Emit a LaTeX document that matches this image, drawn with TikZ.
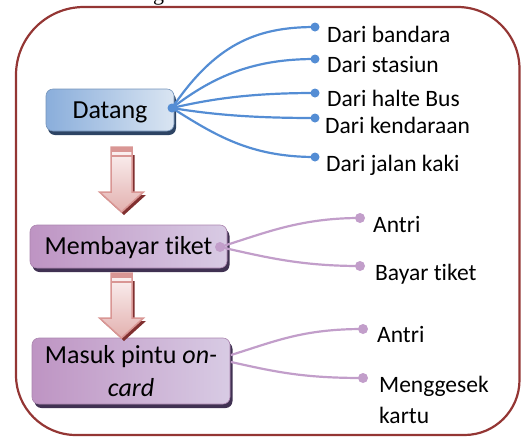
\documentclass[tikz,border=0pt]{standalone}
\usepackage{fontspec}
\setmainfont{Carlito}[RawFeature={-liga}]
\newfontfamily\capfont{Liberation Serif}
\usetikzlibrary{calc}
\definecolor{framecol}{RGB}{148,54,52}
\definecolor{bluel}{RGB}{84,141,212}
\definecolor{purl}{RGB}{194,158,202}
\definecolor{dblueA}{RGB}{138,174,219}
\definecolor{dblueB}{RGB}{218,229,242}
\definecolor{dblueS}{RGB}{45,68,100}
\definecolor{purA}{RGB}{190,148,195}
\definecolor{purB}{RGB}{216,203,228}
\definecolor{purS}{RGB}{64,49,82}
\definecolor{pinkE}{RGB}{217,150,148}
\definecolor{pinkL}{RGB}{252,244,244}
\definecolor{arrowsh}{RGB}{128,48,48}
\tikzset{
  leaf/.style={anchor=base west, inner sep=0pt, font=\fontsize{23.5}{31}\selectfont},
  bluedot/.style={circle, fill=bluel, inner sep=0pt, minimum size=9pt},
  purdot/.style={circle, fill=purl, inner sep=0pt, minimum size=10pt},
  bluecurve/.style={draw=bluel, line width=2.2pt},
  purcurve/.style={draw=purl, line width=2.2pt},
  boxbase/.style={rounded corners=7pt, inner sep=0pt, font=\fontsize{26}{33}\selectfont, line width=0.6pt},
  oneline/.style={text height=20pt, text depth=4pt},
  bluebox/.style={boxbase, left color=dblueA, right color=dblueB, draw=dblueA!85!black,
    preaction={fill=dblueS, transform canvas={shift={(2pt,-4pt)}}}},
  purbox/.style={boxbase, left color=purA, right color=purB, draw=purA!90!black,
    preaction={fill=purS, transform canvas={shift={(2.5pt,-4pt)}}}},
  downarrow/.pic={
    \fill[arrowsh] (-8,8) -- (13,8) -- (13,48) -- (24.5,48) -- (2.5,68) -- (-19.5,48) -- (-8,48) -- cycle;
    \path[draw=pinkE, line width=1.5pt, top color=pinkL, bottom color=pinkE!75!white]
      (-10.5,0) -- (10.5,0) -- (10.5,45) -- (22,45) -- (0,65) -- (-22,45) -- (-10.5,45) -- cycle;
    \fill[pinkE] (-10.5,0) rectangle (10.5,5);
    \fill[pinkE] (-10.5,7.5) rectangle (10.5,10);
  }
}
\begin{document}
\begin{tikzpicture}[x=1pt,y=-1pt]
\useasboundingbox (0,0) rectangle (523,437);
% cut-off caption fragment
\node[font=\capfont\fontsize{22}{26}\selectfont, anchor=base, inner sep=0pt] (cut) at (158.5,0) {g};
% frame
\draw[framecol, line width=2.2pt] (16,250) [rounded corners=68pt] |- (300,7)
  [rounded corners=62pt] -| (519.5,250)
  [rounded corners=55pt] |- (300,435)
  [rounded corners=60pt] -| (16,250) -- cycle;

% main boxes
\node[bluebox, oneline, minimum width=128pt, minimum height=42pt] (datang) at (110,110) {Datang};
\node[purbox, oneline, minimum width=197pt, minimum height=43pt] (bayar) at (128.5,246.5) {Membayar tiket};
\node[purbox, align=center, minimum width=198pt, minimum height=66pt] (masuk) at (131,371) {Masuk pintu \textit{on-}\\\textit{card}};

% arrows between steps
\pic (arrowA) at (121.5,147) {downarrow};
\pic (arrowB) at (121.5,273) {downarrow};

% anchor points
\coordinate (dsrc) at (172,108);
\coordinate (b1) at (315,27);
\coordinate (b2) at (315,59);
\coordinate (b3) at (315,93);
\coordinate (b4) at (315,118);
\coordinate (b5) at (315,157);
\coordinate (psrc) at (220,247);
\coordinate (p1) at (360,218);
\coordinate (p2) at (360,266);
\coordinate (m1) at (231,355);
\coordinate (m2) at (231,362);
\coordinate (p3) at (363,329);
\coordinate (p4) at (363,378);

% blue branches
\draw[bluecurve] (dsrc) .. controls +(43,-63) and +(-60,0) .. (b1);
\draw[bluecurve] (dsrc) .. controls +(43,-33) and +(-60,0) .. (b2);
\draw[bluecurve] (dsrc) .. controls +(43,-10) and +(-60,0) .. (b3);
\draw[bluecurve] (dsrc) .. controls +(43,7) and +(-60,0) .. (b4);
\draw[bluecurve] (dsrc) .. controls +(43,27) and +(-65,0) .. (b5);

% purple branches
\draw[purcurve] (psrc) .. controls +(45,-14) and +(-60,0) .. (p1);
\draw[purcurve] (psrc) .. controls +(45,10) and +(-60,0) .. (p2);
\draw[purcurve] (m1) .. controls +(45,-14) and +(-60,0) .. (p3);
\draw[purcurve] (m2) .. controls +(45,10) and +(-60,0) .. (p4);

% dots
\node[bluedot] (ddot) at (dsrc) {};
\node[bluedot] (bd1) at (b1) {};
\node[bluedot] (bd2) at (b2) {};
\node[bluedot] (bd3) at (b3) {};
\node[bluedot] (bd4) at (b4) {};
\node[bluedot] (bd5) at (b5) {};
\node[purdot] (pdot) at (psrc) {};
\node[purdot] (pd1) at (p1) {};
\node[purdot] (pd2) at (p2) {};
\node[purdot] (pd3) at (p3) {};
\node[purdot] (pd4) at (p4) {};

% labels
\node[leaf] (l1) at (327,42) {Dari bandara};
\node[leaf] (l2) at (327,72) {Dari stasiun};
\node[leaf] (l3) at (327,106) {Dari halte Bus};
\node[leaf] (l4) at (325,133) {Dari kendaraan};
\node[leaf] (l5) at (326,171) {Dari jalan kaki};
\node[leaf] (q1) at (373,232) {Antri};
\node[leaf] (q2) at (375,280) {Bayar tiket};
\node[leaf] (q3) at (377,342) {Antri};
\node[leaf, align=left] (q4) at (379,423) {Menggesek\\kartu};
\end{tikzpicture}
\end{document}
